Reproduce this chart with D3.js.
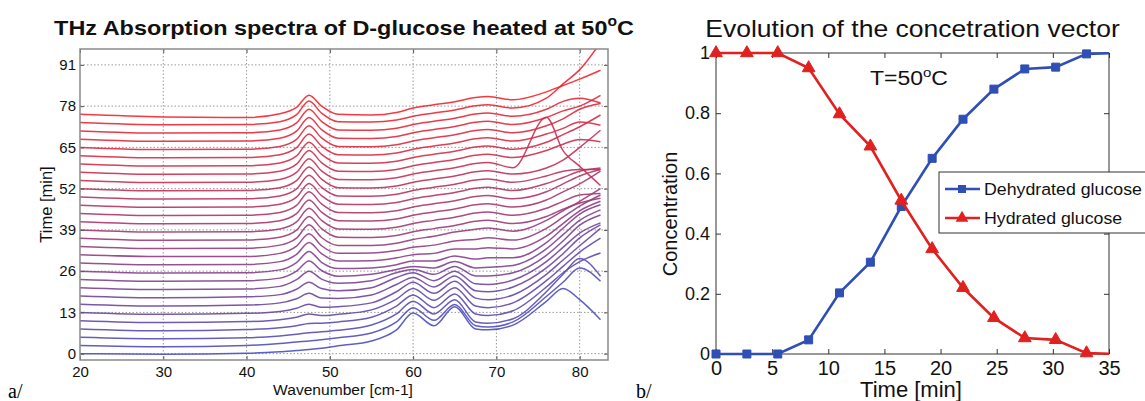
<!DOCTYPE html>
<html>
<head>
<meta charset="utf-8">
<script src="https://cdn.jsdelivr.net/npm/d3@7"></script>
<style>
    body { margin: 0; background: #fff; }
    svg { display: block; font-family: "Liberation Sans", Arial, Helvetica, sans-serif; }
</style>
</head>
<body>
<div id="chart"></div>
<script>
const wavenumbers = [20, 30, 40, 44, 46, 47.5, 49, 51, 55, 58, 60, 62.5, 65, 67.5, 69, 72, 76, 78, 80, 82.5];
const spectra = [
    [0, -0.2, 0.1, 0.6, 1.0, 1.3, 1.7, 2.5, 4.0, 7.5, 12.8, 8.8, 14.8, 7.8, 7.5, 9.0, 16.5, 20.5, 17.0, 10.7],
    [2.6, 2.2, 2.6, 3.2, 3.7, 4.0, 4.4, 5.0, 6.5, 10.0, 14.5, 10.5, 15.5, 8.8, 8.4, 10.0, 18.0, 22.5, 27.0, 22.8],
    [5.2, 4.7, 5.0, 5.6, 6.1, 6.6, 6.9, 7.4, 9.0, 12.5, 16.5, 12.5, 17.0, 10.0, 9.6, 11.0, 19.5, 25.0, 30.0, 24.4],
    [7.8, 7.2, 7.6, 8.2, 8.8, 9.5, 9.6, 10.0, 11.5, 15.0, 18.5, 14.5, 18.8, 12.5, 12.0, 13.5, 21.0, 25.5, 29.0, 31.7],
    [10.4, 9.8, 10.1, 10.7, 11.5, 12.5, 12.0, 12.4, 13.8, 17.2, 20.5, 16.8, 20.8, 15.0, 14.5, 16.0, 23.0, 27.5, 32.0, 36.4],
    [13.0, 12.4, 12.7, 13.3, 14.3, 15.6, 14.6, 14.8, 16.0, 19.5, 22.5, 19.0, 22.8, 17.5, 17.0, 18.5, 25.0, 29.5, 34.0, 39.5],
    [15.6, 15.0, 15.3, 16.0, 17.3, 19.0, 17.5, 17.4, 18.5, 21.8, 24.0, 21.0, 24.5, 19.8, 19.5, 21.0, 27.0, 31.5, 36.5, 40.6],
    [18.2, 17.6, 17.9, 18.6, 20.3, 22.5, 20.5, 19.8, 20.8, 24.0, 25.5, 23.0, 26.0, 22.0, 21.8, 23.2, 29.0, 33.5, 38.0, 41.2],
    [20.8, 20.2, 20.4, 21.2, 23.3, 26.0, 23.5, 22.2, 23.0, 25.5, 26.5, 25.0, 27.5, 24.5, 24.5, 25.5, 31.0, 35.5, 40.5, 43.7],
    [23.4, 22.8, 23.0, 23.8, 26.0, 29.2, 26.2, 24.4, 25.0, 26.5, 27.5, 27.0, 29.0, 27.0, 27.2, 27.8, 33.0, 37.5, 42.0, 45.3],
    [26.0, 25.4, 25.5, 26.4, 28.7, 32.2, 28.8, 26.8, 27.0, 28.0, 29.2, 29.2, 30.8, 29.8, 30.2, 30.2, 35.0, 39.5, 44.0, 46.9],
    [28.6, 28.0, 28.1, 29.0, 31.3, 35.0, 31.5, 29.2, 29.3, 30.2, 31.2, 31.6, 33.0, 33.0, 33.4, 33.0, 37.0, 41.0, 45.0, 48.0],
    [31.2, 30.6, 30.6, 31.6, 33.9, 37.8, 34.0, 31.6, 31.7, 32.5, 33.5, 34.2, 35.5, 36.0, 36.5, 35.8, 39.5, 43.0, 46.5, 50.0],
    [33.8, 33.1, 33.2, 34.2, 36.4, 40.6, 36.6, 34.1, 34.1, 34.8, 36.0, 37.0, 38.3, 39.2, 39.6, 38.6, 42.0, 45.0, 48.0, 52.0],
    [36.4, 35.7, 35.8, 36.7, 38.9, 43.2, 39.4, 36.7, 36.6, 37.2, 38.4, 39.4, 40.4, 41.7, 42.0, 41.0, 43.2, 45.5, 47.5, 49.0],
    [39.0, 38.3, 38.4, 39.3, 41.5, 45.8, 42.0, 39.3, 39.2, 39.8, 41.0, 42.0, 43.0, 44.3, 44.6, 43.6, 45.8, 48.0, 50.0, 50.5],
    [41.6, 40.9, 41.0, 41.9, 44.1, 48.4, 44.6, 41.9, 41.8, 42.4, 43.6, 44.6, 45.6, 46.9, 47.2, 46.2, 48.4, 51.0, 53.5, 57.5],
    [44.2, 43.5, 43.6, 44.5, 46.7, 51.0, 47.2, 44.5, 44.4, 45.0, 46.2, 47.2, 48.2, 49.5, 49.8, 48.8, 51.0, 53.5, 56.0, 58.0],
    [46.8, 46.1, 46.2, 47.1, 49.3, 53.6, 49.8, 47.1, 47.0, 47.6, 48.8, 49.8, 50.8, 52.1, 52.4, 51.4, 53.6, 55.5, 57.5, 58.5],
    [49.4, 48.7, 48.8, 49.7, 51.9, 56.2, 52.4, 49.7, 49.6, 50.2, 51.4, 52.4, 53.4, 54.7, 55.0, 54.0, 56.0, 57.5, 58.0, 58.0],
    [52.0, 51.3, 51.4, 52.3, 54.5, 58.8, 55.0, 52.3, 52.2, 52.8, 54.0, 55.0, 56.0, 57.3, 57.6, 56.6, 58.5, 61.0, 65.0, 70.4],
    [54.6, 53.9, 54.0, 54.9, 57.1, 61.4, 57.6, 54.9, 54.8, 55.4, 56.6, 57.6, 58.6, 59.9, 60.2, 58.6, 74.5, 64.0, 59.0, 53.0],
    [57.2, 56.5, 56.6, 57.5, 59.7, 64.0, 60.2, 57.5, 57.4, 58.0, 59.2, 60.2, 61.2, 62.5, 62.8, 61.8, 64.0, 66.0, 67.5, 66.8],
    [59.8, 59.1, 59.2, 60.1, 62.3, 66.6, 62.8, 60.1, 60.0, 60.6, 61.8, 62.8, 63.8, 65.1, 65.4, 64.4, 66.6, 69.0, 71.5, 75.2],
    [62.4, 61.7, 61.8, 62.7, 64.9, 69.2, 65.4, 62.7, 62.6, 63.2, 64.4, 65.4, 66.4, 67.7, 68.0, 67.0, 69.2, 71.0, 73.0, 72.0],
    [65.0, 64.3, 64.4, 65.3, 67.5, 71.8, 68.0, 65.3, 65.2, 65.8, 67.0, 68.0, 69.0, 70.3, 70.6, 69.6, 71.8, 74.0, 77.0, 78.8],
    [67.6, 66.9, 67.0, 67.9, 70.1, 74.4, 70.6, 67.9, 67.8, 68.4, 69.6, 70.6, 71.6, 72.9, 73.2, 72.2, 74.4, 76.5, 78.0, 81.4],
    [70.2, 69.5, 69.6, 70.5, 72.7, 77.0, 73.2, 70.5, 70.4, 71.0, 72.2, 73.2, 74.2, 75.5, 75.8, 74.8, 77.0, 79.5, 80.5, 79.0],
    [72.8, 72.1, 72.2, 73.1, 75.3, 79.6, 75.8, 73.1, 73.0, 73.6, 74.8, 75.8, 76.8, 78.1, 78.4, 77.4, 80.5, 85.0, 89.5, 98.0],
    [75.4, 74.6, 74.4, 75.6, 77.6, 81.4, 78.0, 75.4, 75.2, 76.0, 77.4, 78.4, 79.4, 80.7, 81.0, 80.0, 82.5, 84.5, 86.5, 89.3]
];
const spectraTicksX = [20, 30, 40, 50, 60, 70, 80];
const spectraTicksY = [0, 13, 26, 39, 52, 65, 78, 91];

// ---- panel b: concentration vector
const timeMin = [0, 2.75, 5.5, 8.25, 11, 13.75, 16.5, 19.25, 22, 24.75, 27.5, 30.25, 33, 35.75];
const dehydrated = [0, 0, 0, 0.047, 0.203, 0.305, 0.49, 0.65, 0.78, 0.88, 0.947, 0.953, 0.997, 1];
const hydrated = [1, 1, 1, 0.95, 0.797, 0.69, 0.51, 0.349, 0.22, 0.12, 0.053, 0.047, 0.003, 0];
const concTicksX = [0, 5, 10, 15, 20, 25, 30, 35];
const concTicksY = [0, 0.2, 0.4, 0.6, 0.8, 1];

const svg = d3.select('#chart')
    .append('svg')
    .attr('width', 1145)
    .attr('height', 401);

// squeeze/stretch a text horizontally so it spans the given width, keeping fixedX in place
function stretchX(sel, target, fixedX) {
    const w = sel.node().getBBox().width;
    const sx = target / w;
    sel.attr('transform', `translate(${fixedX * (1 - sx)},0) scale(${sx},1)`);
    return sx;
}

// text with a small raised "o" for degrees
function degreeText(sel, before, size, supSize) {
    sel.append('tspan').text(before);
    sel.append('tspan').attr('dy', -size * 0.42).style('font-size', supSize + 'px').text('o');
    sel.append('tspan').attr('dy', size * 0.42).text('C');
}

// ================= panel a =================
const A = { left: 80, right: 608, top: 49, bottom: 360 };
const xA = d3.scaleLinear().domain([20, 83.4]).range([A.left, A.right]);
const yA = d3.scaleLinear().domain([-2, 96]).range([A.bottom, A.top]);

svg.append('clipPath').attr('id', 'clipA')
    .append('rect')
    .attr('x', A.left).attr('y', A.top)
    .attr('width', A.right - A.left).attr('height', A.bottom - A.top);

const gridA = svg.append('g').attr('class', 'grid-a');
gridA.selectAll('.vgrid')
    .data(spectraTicksX.slice(1))
    .join('line')
    .attr('x1', (d) => xA(d)).attr('x2', (d) => xA(d))
    .attr('y1', A.top).attr('y2', A.bottom)
    .style('stroke', '#9a9a9a')
    .style('stroke-width', 1)
    .style('stroke-dasharray', '1.5,2');
gridA.selectAll('.hgrid')
    .data(spectraTicksY)
    .join('line')
    .attr('x1', A.left).attr('x2', A.right)
    .attr('y1', (d) => yA(d)).attr('y2', (d) => yA(d))
    .style('stroke', '#9a9a9a')
    .style('stroke-width', 1)
    .style('stroke-dasharray', '1.5,2');

const colorA = d3.scaleLinear()
    .domain([0, spectra.length - 1])
    .range(['#4a4ebe', '#f5232b'])
    .interpolate(d3.interpolateRgb);

const lineA = d3.line()
    .x((d, j) => xA(wavenumbers[j]))
    .y((d) => yA(d))
    .curve(d3.curveMonotoneX);

svg.append('g')
    .attr('clip-path', 'url(#clipA)')
    .selectAll('path')
    .data(spectra)
    .join('path')
    .attr('d', lineA)
    .style('fill', 'none')
    .style('stroke', (d, i) => colorA(i))
    .style('stroke-width', 1.5)
    .style('stroke-opacity', 0.9);

// axes of panel a
const axA = svg.append('g');
axA.append('g')
    .attr('transform', `translate(0,${A.bottom})`)
    .call(d3.axisBottom(xA).tickValues(spectraTicksX).tickSize(-4).tickPadding(6));
axA.append('g')
    .attr('transform', `translate(0,${A.top})`)
    .call(d3.axisTop(xA).tickValues(spectraTicksX).tickSize(-4).tickFormat(''));
axA.append('g')
    .attr('transform', `translate(${A.left},0)`)
    .call(d3.axisLeft(yA).tickValues(spectraTicksY).tickSize(-4).tickPadding(4));
axA.append('g')
    .attr('transform', `translate(${A.right},0)`)
    .call(d3.axisRight(yA).tickValues(spectraTicksY).tickSize(-4).tickFormat(''));
axA.selectAll('.domain').remove();
axA.selectAll('.tick line').style('stroke', '#555');
axA.selectAll('.tick text')
    .style('fill', '#111')
    .style('font-family', 'inherit')
    .style('font-size', '15px');

svg.append('rect')
    .attr('x', A.left).attr('y', A.top)
    .attr('width', A.right - A.left).attr('height', A.bottom - A.top)
    .style('fill', 'none')
    .style('stroke', '#8a8a8a')
    .style('stroke-width', 1.5);

const titleA = svg.append('text')
    .attr('x', (A.left + A.right) / 2)
    .attr('y', 35)
    .attr('text-anchor', 'middle')
    .style('font-size', '21px')
    .style('font-weight', 'bold')
    .style('fill', '#111');
degreeText(titleA, 'THz Absorption spectra of D-glucose heated at 50', 21, 14);
stretchX(titleA, 580, (A.left + A.right) / 2);

const xLabelA = svg.append('text')
    .attr('x', 343).attr('y', 395)
    .attr('text-anchor', 'middle')
    .style('font-size', '14.5px')
    .style('fill', '#111')
    .text('Wavenumber [cm-1]');
stretchX(xLabelA, 140, 343);

svg.append('text')
    .attr('transform', `translate(52,${(A.top + A.bottom) / 2}) rotate(-90)`)
    .attr('text-anchor', 'middle')
    .style('font-size', '16.5px')
    .style('fill', '#111')
    .text('Time [min]');

// ================= panel b =================
const B = { left: 716, right: 1109, top: 53, bottom: 354 };
const xB = d3.scaleLinear().domain([0, 35]).range([B.left, B.right]);
const yB = d3.scaleLinear().domain([0, 1]).range([B.bottom, B.top]);

svg.append('clipPath').attr('id', 'clipB')
    .append('rect')
    .attr('x', B.left).attr('y', B.top - 3)
    .attr('width', B.right - B.left).attr('height', B.bottom - B.top + 6);

const axB = svg.append('g');
axB.append('g')
    .attr('transform', `translate(0,${B.bottom})`)
    .style('font-size', '20px')
    .call(d3.axisBottom(xB).tickValues(concTicksX).tickSize(-5).tickPadding(7));
axB.append('g')
    .attr('transform', `translate(0,${B.top})`)
    .call(d3.axisTop(xB).tickValues(concTicksX).tickSize(-5).tickFormat(''));
axB.append('g')
    .attr('transform', `translate(${B.left},0)`)
    .style('font-size', '18px')
    .call(d3.axisLeft(yB).tickValues(concTicksY).tickSize(-5).tickPadding(6).tickFormat(d3.format('~g')));
axB.append('g')
    .attr('transform', `translate(${B.right},0)`)
    .call(d3.axisRight(yB).tickValues(concTicksY).tickSize(-5).tickFormat(''));
axB.selectAll('.domain').remove();
axB.selectAll('.tick line').style('stroke', '#333');
axB.selectAll('.tick text').style('fill', '#111').style('font-family', 'inherit');

svg.append('rect')
    .attr('x', B.left).attr('y', B.top)
    .attr('width', B.right - B.left).attr('height', B.bottom - B.top)
    .style('fill', 'none')
    .style('stroke', '#333')
    .style('stroke-width', 1);

const blue = '#2f4fb4';
const red = '#e0211f';

const series = [
    { name: 'Dehydrated glucose', values: dehydrated, color: blue, symbol: d3.symbolSquare, size: 64 },
    { name: 'Hydrated glucose', values: hydrated, color: red, symbol: d3.symbolTriangle, size: 70 }
];

const lineB = d3.line()
    .x((d, j) => xB(timeMin[j]))
    .y((d) => yB(d));

series.forEach((s) => {
    svg.append('path')
        .attr('clip-path', 'url(#clipB)')
        .attr('d', lineB(s.values))
        .style('fill', 'none')
        .style('stroke', s.color)
        .style('stroke-width', 2.6);

    const pts = s.values
        .map((v, j) => ({ t: timeMin[j], v: v }))
        .filter((p) => p.t <= 35);

    svg.append('g')
        .selectAll('path')
        .data(pts)
        .join('path')
        .attr('transform', (p) => `translate(${xB(p.t)},${yB(p.v)})`)
        .attr('d', d3.symbol().type(s.symbol).size(s.size))
        .style('fill', s.color)
        .style('stroke', s.color)
        .style('stroke-width', 1);
});

// legend
const legend = svg.append('g');
legend.append('rect')
    .attr('x', 939).attr('y', 172)
    .attr('width', 230).attr('height', 61)
    .style('fill', '#fff')
    .style('stroke', '#333')
    .style('stroke-width', 1);

const legendRows = [189, 218];
let legendScale = null;
series.forEach((s, i) => {
    const ly = legendRows[i];
    legend.append('line')
        .attr('x1', 945).attr('x2', 980)
        .attr('y1', ly).attr('y2', ly)
        .style('stroke', s.color)
        .style('stroke-width', 2.6);
    legend.append('path')
        .attr('transform', `translate(962,${ly})`)
        .attr('d', d3.symbol().type(s.symbol).size(s.size))
        .style('fill', s.color);
    const t = legend.append('text')
        .attr('x', 984).attr('y', ly + 6.5)
        .style('font-size', '17px')
        .style('fill', '#111')
        .text(s.name);
    if (legendScale === null) {
        legendScale = stretchX(t, 158, 984);
    } else {
        t.attr('transform', `translate(${984 * (1 - legendScale)},0) scale(${legendScale},1)`);
    }
});

const titleB = svg.append('text')
    .attr('x', (B.left + B.right) / 2)
    .attr('y', 37)
    .attr('text-anchor', 'middle')
    .style('font-size', '23px')
    .style('fill', '#111')
    .text('Evolution of the concetration vector');
stretchX(titleB, 415, (B.left + B.right) / 2);

const tempB = svg.append('text')
    .attr('x', 870).attr('y', 85)
    .style('font-size', '20px')
    .style('fill', '#111');
degreeText(tempB, 'T=50', 20, 13);
stretchX(tempB, 78, 870);

const xLabelB = svg.append('text')
    .attr('x', 911).attr('y', 397)
    .attr('text-anchor', 'middle')
    .style('font-size', '22px')
    .style('fill', '#111')
    .text('Time [min]');
stretchX(xLabelB, 102, 911);

svg.append('text')
    .attr('transform', 'translate(677,214) rotate(-90)')
    .attr('text-anchor', 'middle')
    .style('font-size', '20px')
    .style('fill', '#111')
    .text('Concentration');

// panel tags
svg.append('text')
    .attr('x', 8).attr('y', 398)
    .style('font-family', '"Liberation Serif", "Times New Roman", serif')
    .style('font-size', '20px')
    .text('a/');
svg.append('text')
    .attr('x', 636).attr('y', 398)
    .style('font-family', '"Liberation Serif", "Times New Roman", serif')
    .style('font-size', '20px')
    .text('b/');
</script>
</body>
</html>
